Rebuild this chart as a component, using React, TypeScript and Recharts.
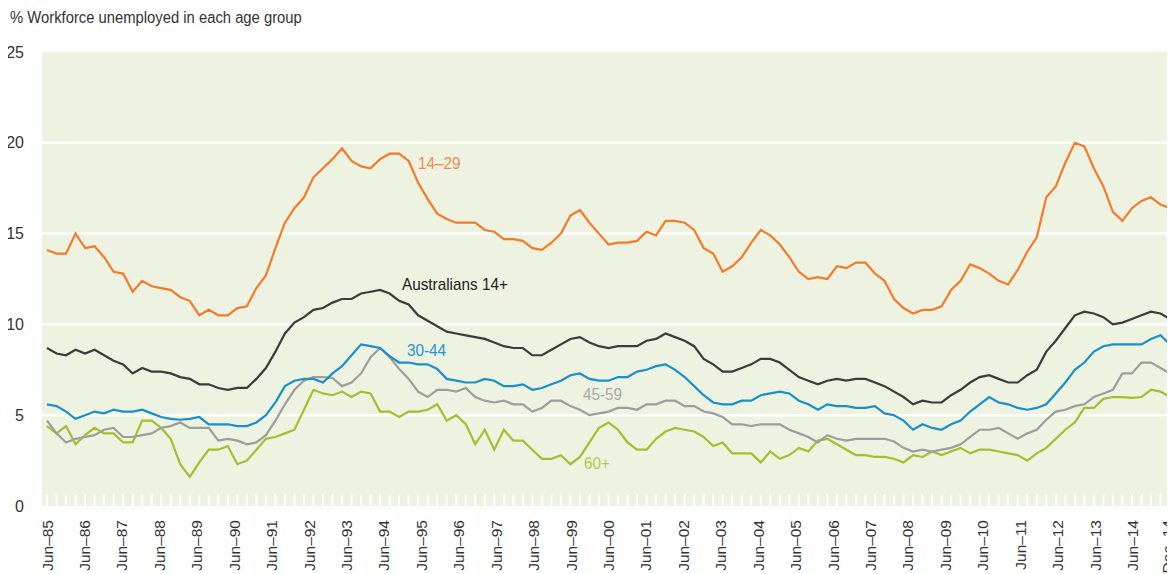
import { LineChart, Line, XAxis, YAxis, CartesianGrid } from 'recharts';

// quarterly unemployment rate (%), Jun-85 .. Dec-14
const age14to29 = [
  14.1, 13.9, 13.9, 15.0, 14.2, 14.3, 13.7, 12.9, 12.8, 11.8, 12.4, 12.1, 12.0, 11.9, 11.5, 11.3, 10.5, 10.8, 10.5, 10.5,
  10.9, 11.0, 12.0, 12.7, 14.2, 15.6, 16.4, 17.0, 18.1, 18.6, 19.1, 19.7, 19.0, 18.7, 18.6, 19.1, 19.4, 19.4, 19.0,
  17.8, 16.9, 16.1, 15.8, 15.6, 15.6, 15.6, 15.2, 15.1, 14.7, 14.7, 14.6, 14.2, 14.1, 14.5, 15.0, 16.0, 16.3, 15.6, 15.0,
  14.4, 14.5, 14.5, 14.6, 15.1, 14.9, 15.7, 15.7, 15.6, 15.2, 14.2, 13.9, 12.9, 13.2, 13.7, 14.5, 15.2, 14.9, 14.4,
  13.7, 12.9, 12.5, 12.6, 12.5, 13.2, 13.1, 13.4, 13.4, 12.8, 12.4, 11.4, 10.9, 10.6, 10.8, 10.8, 11.0, 11.9, 12.4, 13.3,
  13.1, 12.8, 12.4, 12.2, 13.0, 14.0, 14.8, 17.0, 17.6, 18.9, 20.0, 19.8, 18.6, 17.6, 16.2, 15.7, 16.4, 16.8, 17.0, 16.6, 16.4,
];
const allAustralians = [
  8.7, 8.4, 8.3, 8.6, 8.4, 8.6, 8.3, 8.0, 7.8, 7.3, 7.6, 7.4, 7.4, 7.3, 7.1, 7.0, 6.7, 6.7, 6.5, 6.4,
  6.5, 6.5, 7.0, 7.6, 8.5, 9.5, 10.1, 10.4, 10.8, 10.9, 11.2, 11.4, 11.4, 11.7, 11.8, 11.9, 11.7, 11.3, 11.1,
  10.5, 10.2, 9.9, 9.6, 9.5, 9.4, 9.3, 9.2, 9.0, 8.8, 8.7, 8.7, 8.3, 8.3, 8.6, 8.9, 9.2, 9.3, 9.0, 8.8,
  8.7, 8.8, 8.8, 8.8, 9.1, 9.2, 9.5, 9.3, 9.1, 8.8, 8.1, 7.8, 7.4, 7.4, 7.6, 7.8, 8.1, 8.1, 7.9,
  7.5, 7.1, 6.9, 6.7, 6.9, 7.0, 6.9, 7.0, 7.0, 6.8, 6.6, 6.3, 6.0, 5.6, 5.8, 5.7, 5.7, 6.1, 6.4, 6.8,
  7.1, 7.2, 7.0, 6.8, 6.8, 7.2, 7.5, 8.5, 9.1, 9.8, 10.5, 10.7, 10.6, 10.4, 10.0, 10.1, 10.3, 10.5, 10.7, 10.6, 10.3,
];
const age30to44 = [
  5.6, 5.5, 5.2, 4.8, 5.0, 5.2, 5.1, 5.3, 5.2, 5.2, 5.3, 5.1, 4.9, 4.8, 4.75, 4.8, 4.9, 4.5, 4.5, 4.5,
  4.4, 4.4, 4.6, 5.0, 5.7, 6.6, 6.9, 7.0, 7.0, 6.8, 7.3, 7.7, 8.3, 8.9, 8.8, 8.7, 8.25, 7.9, 7.9,
  7.8, 7.8, 7.55, 7.0, 6.9, 6.8, 6.8, 7.0, 6.9, 6.6, 6.6, 6.7, 6.4, 6.5, 6.7, 6.9, 7.2, 7.3, 7.0, 6.9,
  6.9, 7.1, 7.1, 7.4, 7.5, 7.7, 7.8, 7.5, 7.1, 6.6, 6.1, 5.7, 5.6, 5.6, 5.8, 5.8, 6.1, 6.2, 6.3,
  6.2, 5.8, 5.6, 5.3, 5.6, 5.5, 5.5, 5.4, 5.4, 5.5, 5.1, 5.0, 4.7, 4.2, 4.5, 4.3, 4.2, 4.5, 4.7, 5.2,
  5.6, 6.0, 5.7, 5.6, 5.4, 5.3, 5.4, 5.6, 6.2, 6.8, 7.5, 7.9, 8.5, 8.8, 8.9, 8.9, 8.9, 8.9, 9.2, 9.4, 8.9,
];
const age45to59 = [
  4.7, 4.0, 3.5, 3.7, 3.8, 3.9, 4.2, 4.3, 3.8, 3.8, 3.9, 4.0, 4.3, 4.4, 4.6, 4.3, 4.3, 4.3, 3.6, 3.7,
  3.6, 3.4, 3.5, 3.9, 4.7, 5.6, 6.4, 6.9, 7.1, 7.1, 7.05, 6.6, 6.8, 7.3, 8.2, 8.7, 8.2, 7.55, 7.0,
  6.3, 6.0, 6.4, 6.4, 6.3, 6.5, 6.0, 5.8, 5.7, 5.8, 5.6, 5.6, 5.2, 5.4, 5.8, 5.8, 5.5, 5.3, 5.0, 5.1,
  5.2, 5.4, 5.4, 5.3, 5.6, 5.6, 5.8, 5.8, 5.5, 5.5, 5.2, 5.1, 4.9, 4.5, 4.5, 4.4, 4.5, 4.5, 4.5,
  4.2, 4.0, 3.8, 3.5, 3.9, 3.7, 3.6, 3.7, 3.7, 3.7, 3.7, 3.55, 3.2, 3.0, 3.1, 3.0, 3.1, 3.2, 3.4, 3.8,
  4.2, 4.2, 4.3, 4.0, 3.7, 4.0, 4.2, 4.75, 5.2, 5.3, 5.5, 5.6, 6.0, 6.2, 6.4, 7.3, 7.3, 7.9, 7.9, 7.6, 7.3,
];
const age60plus = [
  4.4, 4.0, 4.4, 3.4, 3.9, 4.3, 4.0, 4.0, 3.5, 3.5, 4.7, 4.7, 4.3, 3.7, 2.3, 1.6, 2.4, 3.1, 3.1, 3.3,
  2.3, 2.5, 3.1, 3.7, 3.8, 4.0, 4.2, 5.3, 6.4, 6.2, 6.1, 6.3, 6.0, 6.3, 6.2, 5.2, 5.2, 4.9, 5.2,
  5.2, 5.3, 5.6, 4.7, 5.0, 4.5, 3.4, 4.2, 3.1, 4.2, 3.6, 3.6, 3.1, 2.6, 2.6, 2.8, 2.3, 2.7, 3.5, 4.3,
  4.6, 4.2, 3.5, 3.1, 3.1, 3.7, 4.1, 4.3, 4.2, 4.1, 3.8, 3.3, 3.5, 2.9, 2.9, 2.9, 2.4, 3.0, 2.6,
  2.8, 3.2, 3.0, 3.6, 3.7, 3.4, 3.1, 2.8, 2.8, 2.7, 2.7, 2.6, 2.4, 2.8, 2.7, 3.0, 2.8, 3.0, 3.2, 2.9,
  3.1, 3.1, 3.0, 2.9, 2.8, 2.5, 2.9, 3.2, 3.7, 4.2, 4.6, 5.4, 5.4, 5.9, 6.0, 6.0, 5.95, 6.0, 6.4, 6.3, 6.0,
];

// the printed x labels are spread evenly over the whole span (30 steps)
const yearLabels = [
  'Jun–85', 'Jun–86', 'Jun–87', 'Jun–88', 'Jun–89', 'Jun–90', 'Jun–91', 'Jun–92', 'Jun–93', 'Jun–94',
  'Jun–95', 'Jun–96', 'Jun–97', 'Jun–98', 'Jun–99', 'Jun–00', 'Jun–01', 'Jun–02', 'Jun–03', 'Jun–04',
  'Jun–05', 'Jun–06', 'Jun–07', 'Jun–08', 'Jun–09', 'Jun–10', 'Jun–11', 'Jun–12', 'Jun–13', 'Jun–14', 'Dec–14',
];
const yTicks = [0, 5, 10, 15, 20, 25];
const gridValues = [5, 10, 15, 20];

const W = 1175;
const H = 574;
const FONT = "'Liberation Sans', Arial, sans-serif";

const data = age14to29.map((v, i) => ({
  q: i,
  youth: v,
  all: allAustralians[i],
  a30: age30to44[i],
  a45: age45to59[i],
  a60: age60plus[i],
}));

const lastQ = data.length - 1;
const labelSteps = yearLabels.length - 1;
const yearTicks = yearLabels.map((_, k) => (k * lastQ) / labelSteps);

function YearTick(props: any) {
  const { x, y, payload } = props;
  const label = yearLabels[yearTicks.indexOf(payload.value)];
  // keep the last label inside the frame
  const bx = Math.min(x + 5.5, W - 2);
  const by = y + 14;
  return (
    <text
      x={bx}
      y={by}
      transform={`rotate(-90, ${bx}, ${by})`}
      textAnchor="end"
      fill="#333"
      fontSize={15.5}
      fontFamily={FONT}
    >
      {label}
    </text>
  );
}

const EmptyTick = () => <g />;

const labelStyle = (left: number, top: number, color: string): React.CSSProperties => ({
  position: 'absolute',
  left,
  top,
  color,
  fontSize: 17,
  lineHeight: 1,
  whiteSpace: 'nowrap',
  transform: 'scaleX(0.9)',
  transformOrigin: 'left top',
});

export default function App() {
  return (
    <div style={{ position: 'relative', width: W, height: H, margin: '-8px 0 0 -8px', fontFamily: FONT }}>
      <LineChart width={W} height={H} data={data} margin={{ top: 52, right: 0, bottom: 0, left: 0 }}>
        <CartesianGrid
          xAxisId="q"
          vertical={false}
          horizontalValues={gridValues}
          stroke="#ffffff"
          strokeWidth={2.5}
          fill="#eef2e1"
          fillOpacity={1}
        />
        <XAxis
          xAxisId="yr"
          dataKey="q"
          type="number"
          domain={[0, lastQ]}
          ticks={yearTicks}
          interval={0}
          axisLine={false}
          tickLine={false}
          tickSize={0}
          tickMargin={0}
          height={68}
          padding={{ left: 5, right: 5 }}
          tick={<YearTick />}
        />
        <XAxis
          xAxisId="q"
          dataKey="q"
          type="category"
          mirror
          interval={0}
          axisLine={false}
          tick={<EmptyTick />}
          tickLine={{ stroke: '#ffffff', strokeWidth: 2 }}
          tickSize={12}
          padding={{ left: 5, right: 5 }}
        />
        <YAxis
          domain={[0, 25]}
          ticks={yTicks}
          width={42}
          axisLine={false}
          tickLine={false}
          tickSize={0}
          tickMargin={18}
          tick={{ fill: '#333', fontSize: 16, fontFamily: FONT }}
        />
        <Line xAxisId="q" dataKey="a60" stroke="#a2bf2e" strokeWidth={2.2} dot={false} isAnimationActive={false} />
        <Line xAxisId="q" dataKey="a45" stroke="#9d9d9d" strokeWidth={2.2} dot={false} isAnimationActive={false} />
        <Line xAxisId="q" dataKey="a30" stroke="#1990c8" strokeWidth={2.2} dot={false} isAnimationActive={false} />
        <Line xAxisId="q" dataKey="all" stroke="#3b3b3b" strokeWidth={2.2} dot={false} isAnimationActive={false} />
        <Line xAxisId="q" dataKey="youth" stroke="#f47b2a" strokeWidth={2.2} dot={false} isAnimationActive={false} />
      </LineChart>
      <div
        style={{
          position: 'absolute',
          left: 10,
          top: 9.6,
          fontSize: 16,
          lineHeight: 1,
          color: '#333',
          whiteSpace: 'nowrap',
          transform: 'scaleX(0.925)',
          transformOrigin: 'left top',
        }}
      >
        % Workforce unemployed in each age group
      </div>
      <div style={labelStyle(418, 154.8, '#f28a4a')}>14–29</div>
      <div style={labelStyle(402, 275.8, '#222')}>Australians 14+</div>
      <div style={labelStyle(407, 341.8, '#1a98d2')}>30-44</div>
      <div style={labelStyle(583, 385.8, '#a8a8a8')}>45-59</div>
      <div style={labelStyle(584, 454.8, '#b2ca45')}>60+</div>
    </div>
  );
}
